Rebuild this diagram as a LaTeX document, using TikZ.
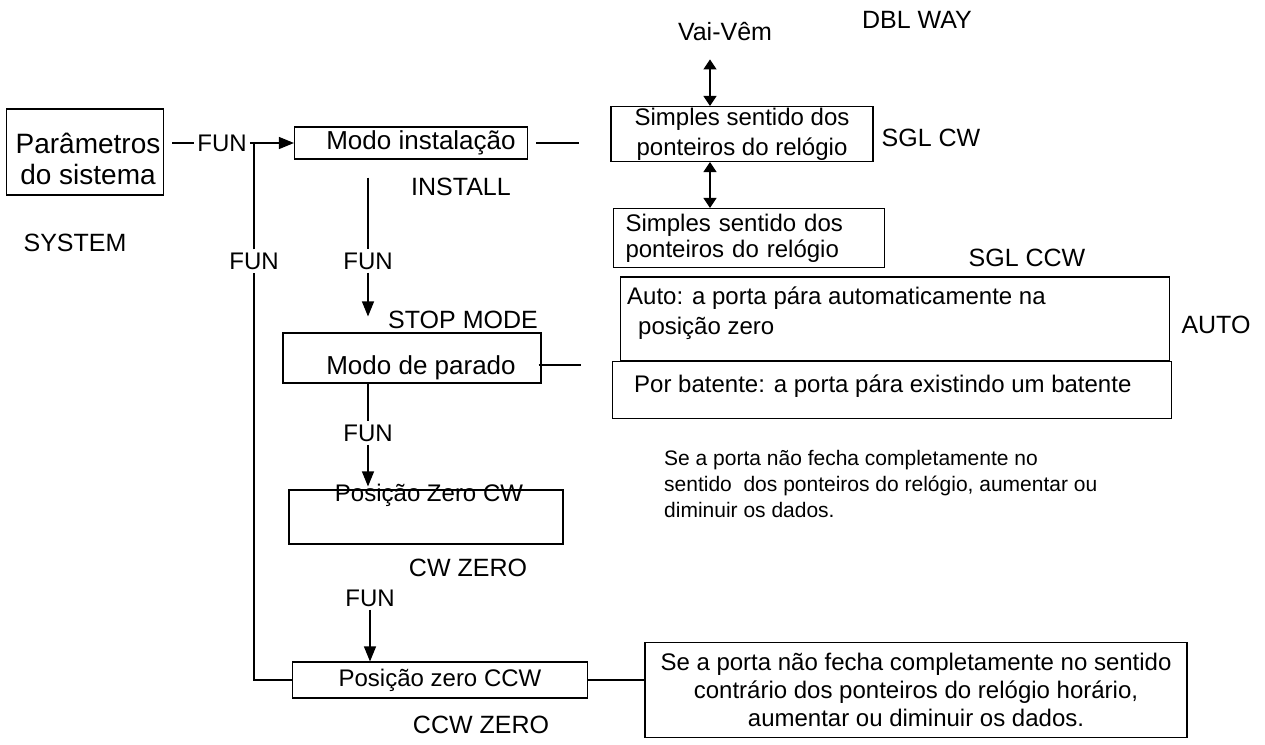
\documentclass[tikz,border=0pt]{standalone}
\usepackage{fontspec}
\setmainfont{Liberation Sans}
\usetikzlibrary{arrows.meta}

\begin{document}
\begin{tikzpicture}[x=1pt,y=-1pt,
  lbl/.style={font=\fontsize{25}{30}\selectfont, inner sep=0pt},
  funlbl/.style={font=\fontsize{24}{28}\selectfont, inner sep=3pt},
  box/.style={draw, line width=1.1pt, inner sep=0pt, align=center},
  boxtxt/.style={font=\fontsize{24}{30}\selectfont},
  conn/.style={line width=1.1pt},
  arr/.style={conn, -{Triangle[length=15pt,width=12pt]}},
  dblarr/.style={conn, {Triangle[length=10pt,width=13pt]}-{Triangle[length=10pt,width=13pt]}}]

\useasboundingbox (0,0) rectangle (1265,744);

\node [box, minimum width=157, minimum height=86] (par) at (85,152) {};
\node [box, minimum width=233, minimum height=32, font=\fontsize{26}{30}\selectfont] (inst) at (411,143) {\hspace*{20pt}Modo instalação};
\node [box, boxtxt, minimum width=262, minimum height=55] (sglcw) at (742,134) {Simples sentido dos\\ponteiros do relógio};
\node [box, font=\fontsize{24}{26}\selectfont, minimum width=271, minimum height=59, align=left, text width=247] (sglccw) at (749,238) {Simples sentido dos\\ponteiros do relógio};
\node [box, minimum width=549, minimum height=84] (auto) at (895,319) {};
\node [box, minimum width=559, minimum height=57] (bat) at (892,390) {};
\node [box, minimum width=258, minimum height=50] (parado) at (412,358) {};
\node [box, minimum width=274, minimum height=54] (cwbox) at (426,517) {};
\node [box, boxtxt, minimum width=295, minimum height=36] (ccw) at (440,680) {Posição zero CCW};
\node [box, font=\fontsize{24}{28}\selectfont, minimum width=542, minimum height=95] (bigbox) at (916,690) {Se a porta não fecha completamente no sentido\\contrário dos ponteiros do relógio horário,\\aumentar ou diminuir os dados.};

\node [font=\fontsize{28}{31}\selectfont, align=center, inner sep=0pt] (partxt) at (88,159) {Parâmetros\\do sistema};
\node [boxtxt, anchor=north west, align=left, inner sep=0pt] (autotxt) at (627,287) {Auto: a porta pára automaticamente na\\\hspace*{11pt}posição zero};
\node [boxtxt, anchor=base west, inner sep=0pt] (battxt) at (634,392) {Por batente: a porta pára existindo um batente};
\node [inner sep=0pt, font=\fontsize{26}{30}\selectfont] (paradotxt) at (421,368) {Modo de parado};
\node [boxtxt, inner sep=0pt] (cwtxt) at (429,495) {Posição Zero CW};
\node [font=\fontsize{21}{26}\selectfont, align=left, anchor=north west, inner sep=0pt] (note) at (664,450) {Se a porta não fecha completamente no\\sentido\ \ dos ponteiros do relógio, aumentar ou\\diminuir os dados.};

\node [lbl] (dbl) at (917,20) {DBL WAY};
\node [lbl] (vai) at (725,32) {Vai-Vêm};
\node [lbl] (sglcwlbl) at (931,138) {SGL CW};
\node [lbl] (sglccwlbl) at (1027,258) {SGL CCW};
\node [lbl] (autolbl) at (1216,325) {AUTO};
\node [lbl] (system) at (75,243) {SYSTEM};
\node [lbl] (install) at (461,187) {INSTALL};
\node [lbl] (stop) at (463,320) {STOP MODE};
\node [lbl] (cwzero) at (468,568) {CW ZERO};
\node [lbl] (ccwzero) at (481,725) {CCW ZERO};

\node [funlbl] (funA) at (222,143) {FUN};
\node [funlbl] (funL) at (254,261) {FUN};
\node [funlbl] (funB) at (368,261) {FUN};
\node [funlbl] (funC) at (368,433) {FUN};
\node [funlbl] (funD) at (370,598) {FUN};

\coordinate (instend) at (579,143);
\coordinate (paradoend) at (581,365);

\draw [conn, shorten <=8pt] (par.east |- funA.west) -- (funA.west);
\draw [arr] (funA.east) -- (inst.west);
\draw [conn] (ccw.west) -| (funL.south);
\draw [conn] (funL.north) -- (funL |- inst.west);
\draw [conn, shorten <=8pt] (inst.east) -- (instend);

\draw [dblarr, shorten <=18pt] ([xshift=-15pt]vai.south) -- ([xshift=-32pt]sglcw.north);
\draw [dblarr] ([xshift=-32pt]sglcw.south) -- ([xshift=-32pt]sglcw.south |- sglccw.north);

\draw [conn, shorten <=18pt] (inst.south -| funB) -- (funB.north);
\draw [arr, shorten >=16pt] (funB.south) -- (parado.north -| funB);
\draw [conn] ([xshift=-3pt]parado.east |- paradoend) -- (paradoend);

\draw [conn] (parado.south -| funC) -- (funC.north);
\draw [arr, shorten >=3pt] (funC.south) -- (cwbox.north -| funC);

\draw [arr] (funD.south) -- (ccw.north -| funD);
\draw [conn] (ccw.east) -- (bigbox.west |- ccw.east);
\end{tikzpicture}
\end{document}
